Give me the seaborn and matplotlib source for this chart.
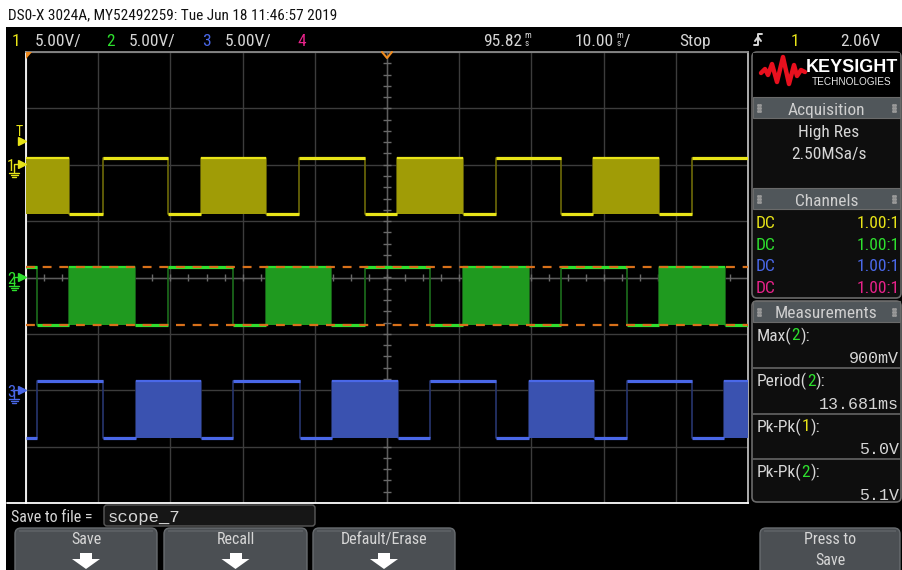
"""
plot.py
-------
Re-draw of a Keysight DSO-X 3024A screen capture (three PWM-like channels)
with seaborn / matplotlib.  Saves out.png (902 x 570 px).
"""

import matplotlib
matplotlib.use("Agg")
import matplotlib.pyplot as plt
from matplotlib import font_manager
from matplotlib.patches import FancyBboxPatch, Rectangle, Polygon
import numpy as np
import pandas as pd
import seaborn as sns

# ── Data ───────────────────────────────────────────────────────────────────────
# time in ms from the left edge of the screen (10 div x 10 ms/div)
SCREEN_MS = 100.0
VOLTS_PER_DIV = 5.0

# state per segment: H = high, L = low, B = modulated burst
ch1_edges = [0, 6.0, 10.6, 19.6, 24.3, 33.2, 37.8, 46.9, 51.4, 60.5,
             65.1, 74.1, 78.6, 87.7, 92.2, 100]
ch1_states = "BLHLBLHLBLHLBLH"
ch1_levels = (0.6, -4.4)          # volts (high, low)
ch1_offset = 2.0                  # ground position in divisions

ch2_edges = [0, 1.5, 6.0, 15.1, 19.6, 28.7, 33.3, 42.3, 46.9, 56.0,
             60.5, 69.6, 74.1, 83.2, 87.7, 96.8, 100]
ch2_states = "HLBLHLBLHLBLHLBL"
ch2_levels = (0.9, -4.2)
ch2_offset = 0.0

ch3_edges = [0, 1.5, 10.6, 15.2, 24.3, 28.7, 37.9, 42.4, 51.5, 56.0,
             65.1, 69.6, 78.7, 83.2, 92.2, 96.7, 100]
ch3_states = "LHLBLHLBLHLBLHLB"
ch3_levels = (0.8, -4.2)
ch3_offset = -2.0

# cursor lines on channel 2 (max / min), volts
ch2_cursors = [0.9, -4.2]

title_text = "DS0-X 3024A, MY52492259: Tue Jun 18 11:46:57 2019"
channel_scales = ["5.00V/", "5.00V/", "5.00V/"]
delay_text = "95.82"
timebase_text = "10.00"
run_state = "Stop"
trigger_source = "1"
trigger_level = "2.06V"

acq_lines = ["High Res", "2.50MSa/s"]
probe_rows = ["1.00:1", "1.00:1", "1.00:1", "1.00:1"]
meas_names = ["Max", "Period", "Pk-Pk", "Pk-Pk"]
meas_sources = ["2", "2", "1", "2"]
meas_values = ["900mV", "13.681ms", "5.0V", "5.1V"]
softkeys = ["Save", "Recall", "Default/Erase"]
save_name = "scope_7"

# ── Colours ────────────────────────────────────────────────────────────────────
CH_COLORS = {"1": "#e8e418", "2": "#2ee02e", "3": "#4a68e8", "4": "#e8228a"}
CH_DIM = {"1": "#6e6a08", "2": "#1c6e1c", "3": "#27356f"}
CH_BURST = {"1": "#a09c06", "2": "#1f9a1f", "3": "#3a52b0"}
TXT = "#d6d6d6"
HEADER = "#50565a"
PANEL = "#0e0e0e"
BORDER = "#6a6a6a"
BUTTON = "#4b4f53"
BUTTON_TOP = "#5a5e62"


def pick_font(*names):
    for n in names:
        try:
            font_manager.findfont(font_manager.FontProperties(family=n),
                                  fallback_to_default=False)
            return n
        except Exception:
            continue
    return "DejaVu Sans"


sns.set_style("dark", {"axes.facecolor": "black"})
NARROW = pick_font("Liberation Sans Narrow", "DejaVu Sans Condensed",
                   "Roboto Condensed", "Liberation Sans")
MONO = pick_font("Liberation Mono", "DejaVu Sans Mono")
plt.rcParams["font.family"] = [NARROW, "DejaVu Sans"]

fig = plt.figure(figsize=(9.02, 5.70), dpi=100, facecolor="white")

# background (pixel coordinates, y downwards)
bg = fig.add_axes([0, 0, 1, 1], zorder=-1)
bg.set_xlim(0, 902)
bg.set_ylim(570, 0)
bg.axis("off")
bg.add_patch(Rectangle((6, 27), 896, 543, color="black", lw=0))

# ── Scope graticule ────────────────────────────────────────────────────────────
L, T, R, B = 26, 52, 748, 503
sc = fig.add_axes([L / 902, (570 - B) / 570, (R - L) / 902, (B - T) / 570], zorder=1)
sc.set_facecolor("black")
sc.set_xlim(0, SCREEN_MS)
sc.set_ylim(-4, 4)
sc.set_xticks(np.arange(0, SCREEN_MS + 1, 10))
sc.set_yticks(np.arange(-4, 5, 1))
sc.grid(True, color="#3c3c3c", lw=1)
sc.tick_params(length=0, labelbottom=False, labelleft=False)
for side, col in [("left", "white"), ("bottom", "white"),
                  ("top", "#8a8a8a"), ("right", "#bbbbbb")]:
    sc.spines[side].set_visible(True)
    sc.spines[side].set_color(col)
    sc.spines[side].set_linewidth(1.3)

# centre axes with minor ticks
sc.axhline(0, color="#5c5c5c", lw=1)
sc.axvline(50, color="#5c5c5c", lw=1)
sc.vlines(np.arange(0, SCREEN_MS + 0.1, 2.5), -0.07, 0.07, color="#6a6a6a", lw=1)
sc.hlines(np.arange(-4, 4.01, 0.2), 49.45, 50.55, color="#6a6a6a", lw=1)


def draw_channel(ax, ch, edges, states, levels, offset):
    yh = offset + levels[0] / VOLTS_PER_DIV
    yl = offset + levels[1] / VOLTS_PER_DIV
    lv = [yh if s in "HB" else yl for s in states]
    trace = pd.DataFrame({"t": edges, "y": lv + [lv[-1]]})
    sns.lineplot(data=trace, x="t", y="y", drawstyle="steps-post",
                 estimator=None, sort=False, color=CH_DIM[ch], lw=1.2, ax=ax)
    for t0, t1, s in zip(edges[:-1], edges[1:], states):
        if s == "B":
            ax.fill_between([t0, t1], yl, yh, color=CH_BURST[ch], lw=0, zorder=3)
            ax.hlines(yh, t0, t1, color=CH_COLORS[ch], lw=1.6, zorder=4)
        else:
            ax.hlines(yh if s == "H" else yl, t0, t1, color=CH_COLORS[ch],
                      lw=2.3, zorder=4)


draw_channel(sc, "1", ch1_edges, ch1_states, ch1_levels, ch1_offset)
draw_channel(sc, "2", ch2_edges, ch2_states, ch2_levels, ch2_offset)
draw_channel(sc, "3", ch3_edges, ch3_states, ch3_levels, ch3_offset)
for v in ch2_cursors:
    sc.axhline(ch2_offset + v / VOLTS_PER_DIV, color="#d8701a", lw=1.6,
               dashes=(4, 3.5), zorder=5)
sc.set_xlabel("")
sc.set_ylabel("")

# ── Overlay: all the screen furniture in pixel coordinates ─────────────────────
ov = fig.add_axes([0, 0, 1, 1], zorder=2)
ov.set_xlim(0, 902)
ov.set_ylim(570, 0)
ov.axis("off")
ov.patch.set_alpha(0)


def txt(x, y, s, color=TXT, size=12, ha="left", family=None, **kw):
    return ov.text(x, y, s, color=color, fontsize=size, ha=ha, va="center_baseline",
                   family=family or [NARROW, "DejaVu Sans"], **kw)


def multi_txt(x, y, parts, size=12):
    r = fig.canvas.get_renderer()
    for s, c in parts:
        t = txt(x, y, s, color=c, size=size)
        bb = t.get_window_extent(renderer=r)
        x = ov.transData.inverted().transform((bb.x1, bb.y0))[0]


# title line on white
txt(8, 14, title_text, color="#111111", size=11)

# status bar
for i, (ch, scale) in enumerate(zip("123", channel_scales)):
    x0 = [12, 106, 202][i]
    txt(x0, 40, ch, color=CH_COLORS[ch], size=12.5)
    txt(x0 + 23, 40, scale, size=12.5)
txt(297, 40, "4", color=CH_COLORS["4"], size=12.5)


def time_units(x, y):
    txt(x, y - 5, "m", size=6.5)
    txt(x + 0.5, y + 3, "s", size=6.5)


txt(483, 40, delay_text, size=12.5)
time_units(524, 40)
txt(575, 40, timebase_text, size=12.5)
time_units(616, 40)
txt(624, 40, "/", size=12.5)
txt(679, 40, run_state, size=12.5)
ov.plot([754, 758, 758, 762], [45, 45, 34, 34], color=TXT, lw=1.4)
ov.plot([755, 758, 761], [41, 37, 41], color=TXT, lw=1.4)
txt(791, 40, trigger_source, color=CH_COLORS["1"], size=12.5)
txt(880, 40, trigger_level, size=12.5, ha="right")

# markers on top of graticule
ov.add_patch(Polygon([[26, 52], [32, 52], [26, 59]], closed=True, color="#ee8a1e", lw=0))
ov.plot([382, 387, 392], [52, 58, 52], color="#ee8a1e", lw=1.5)
ov.plot([7, 26], [503, 503], color="white", lw=1.3)

# channel / trigger markers at the left
txt(16, 130, "T", color=CH_COLORS["1"], size=10)
ov.plot(22, 141, marker=">", color=CH_COLORS["1"], ms=6)
for ch, yy in [("1", 164), ("2", 277), ("3", 390)]:
    c = CH_COLORS[ch]
    txt(7, yy + 1, ch, color=c, size=12)
    ov.plot(22, yy, marker=">", color=c, ms=6)
    ov.plot([14, 14, 20], [yy + 8, yy, yy], color=c, lw=1)
    for k, w in enumerate([5, 3.5, 2]):
        ov.plot([14 - w, 14 + w], [yy + 9 + 2 * k, yy + 9 + 2 * k], color=c, lw=1)

# ── Right-hand panel ───────────────────────────────────────────────────────────
PX0, PX1 = 752, 901
ov.add_patch(FancyBboxPatch((PX0, 52), PX1 - PX0, 246, boxstyle="round,pad=0,rounding_size=5",
                            fc=PANEL, ec=BORDER, lw=1.2))
ov.add_patch(FancyBboxPatch((PX0, 301), PX1 - PX0, 201, boxstyle="round,pad=0,rounding_size=5",
                            fc=PANEL, ec=BORDER, lw=1.2))
ov.add_patch(Rectangle((PX0 + 1, 53), PX1 - PX0 - 2, 44, color="black", lw=0))


def header(y0, y1, label):
    ov.add_patch(Rectangle((PX0 + 0.6, y0), PX1 - PX0 - 1.2, y1 - y0, fc=HEADER, ec=BORDER, lw=0.8))
    txt((PX0 + PX1) / 2, (y0 + y1) / 2 + 1, label, color="#cfcfcf", size=12.5, ha="center")
    for gx in (PX0 + 7, PX1 - 7):
        ov.plot([gx - 1.2] * 3 + [gx + 1.2] * 3, [(y0 + y1) / 2 + d for d in (-3, 0, 3)] * 2,
                ls="none", marker="s", ms=1, color="#9a9a9a")


# logo
logo_x = [761, 765, 768, 772, 777, 783, 789, 794, 797, 801, 805]
logo_y = [73, 69, 75, 64, 82, 57, 84, 65, 76, 70, 72]
ov.plot(logo_x, logo_y, color="#e8101e", lw=3.2, solid_joinstyle="round")
ov.text(852, 67, "KEYSIGHT", color="white", fontsize=13, weight="bold", ha="center",
        va="center", family=["Liberation Sans", "DejaVu Sans"])
ov.text(852, 82, "TECHNOLOGIES", color="#e6e6e6", fontsize=7.2, ha="center", va="center",
        family=["Liberation Sans", "DejaVu Sans"])

header(97, 118, "Acquisition")
txt(829, 131, acq_lines[0], size=12.5, ha="center")
txt(829, 153, acq_lines[1], size=12.5, ha="center")

header(188, 209, "Channels")
for k, (ch, val) in enumerate(zip("1234", probe_rows)):
    yy = 222 + k * 21.7
    txt(756, yy, "DC", color=CH_COLORS[ch], size=12.5)
    txt(900, yy, val, color=CH_COLORS[ch], size=12.5, ha="right")

header(301, 322, "Measurements")
for k, (nm, src, val) in enumerate(zip(meas_names, meas_sources, meas_values)):
    y0 = 334 + k * 45.6
    multi_txt(757, y0, [(nm + "(", TXT), (src, CH_COLORS[src]), ("):", TXT)], size=12.5)
    txt(899, y0 + 23, val, size=12, ha="right", family=MONO)
    if k < 3:
        ov.plot([PX0 + 1, PX1 - 1], [y0 + 34, y0 + 34], color="#5e5e5e", lw=1.3)

# ── Bottom soft-key area ───────────────────────────────────────────────────────
txt(11, 516, "Save to file =", size=11.5)
ov.add_patch(FancyBboxPatch((104, 505), 211, 21, boxstyle="round,pad=0,rounding_size=3",
                            fc="#161616", ec="#5a5a5a", lw=1))
txt(108, 516, save_name, size=12.5, family=MONO)

for x0, x1, label in [(15, 157, softkeys[0]), (164, 307, softkeys[1]),
                      (313, 455, softkeys[2]), (760, 900, None)]:
    ov.add_patch(FancyBboxPatch((x0, 528), x1 - x0, 50, boxstyle="round,pad=0,rounding_size=6",
                                fc=BUTTON, ec="#686c70", lw=1, zorder=1))
    ov.add_patch(Rectangle((x0 + 4, 529.5), x1 - x0 - 8, 2, color=BUTTON_TOP, lw=0, zorder=1))
    xc = (x0 + x1) / 2
    if label is not None:
        txt(xc, 538, label, size=11.5, ha="center", zorder=3)
        ov.add_patch(Polygon([[xc - 14, 559], [xc + 14, 559], [xc, 569]], closed=True,
                             color="white", lw=0, zorder=3))
        ov.add_patch(Rectangle((xc - 6, 553), 12, 6.5, color="white", lw=0, zorder=3))
    else:
        txt(xc, 538, "Press to", size=11.5, ha="center", zorder=3)
        txt(xc, 559, "Save", size=11.5, ha="center", zorder=3)

ov.set_xlim(0, 902)
ov.set_ylim(570, 0)

fig.savefig("out.png", dpi=100, facecolor="white")
